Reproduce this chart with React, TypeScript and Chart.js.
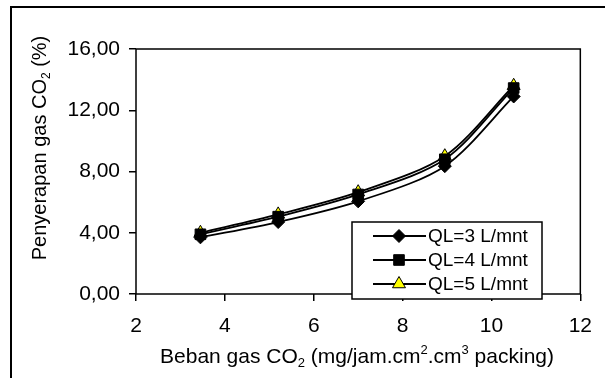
import React, { useEffect, useRef } from "react";
import { Chart, registerables } from "chart.js";
import { drawPoint } from "chart.js/helpers";

Chart.register(...registerables);

const xValues = [3.45, 5.2, 7.0, 8.95, 10.5];
const ql3 = [3.7, 4.7, 6.05, 8.35, 12.9];
const ql4 = [3.9, 5.05, 6.5, 8.8, 13.45];
const ql5 = [4.0, 5.2, 6.65, 9.0, 13.6];
const seriesLabels = ["QL=3 L/mnt", "QL=4 L/mnt", "QL=5 L/mnt"];
const xTickLabels = ["2", "4", "6", "8", "10", "12"];
const yTickLabels = ["0,00", "4,00", "8,00", "12,00", "16,00"];

const FONT = "'Liberation Sans', Arial, sans-serif";

type Seg = { t: string; k?: "sub" | "sup" };
const xTitle: Seg[] = [
  { t: "Beban gas CO" },
  { t: "2", k: "sub" },
  { t: " (mg/jam.cm" },
  { t: "2", k: "sup" },
  { t: ".cm" },
  { t: "3", k: "sup" },
  { t: " packing)" },
];
const yTitle: Seg[] = [
  { t: "Penyerapan gas CO" },
  { t: "2", k: "sub" },
  { t: " (%)" },
];

function drawRich(ctx: CanvasRenderingContext2D, segs: Seg[], size: number) {
  const small = Math.round(size * 0.6);
  let total = 0;
  const widths = segs.map((s) => {
    ctx.font = `${s.k ? small : size}px ${FONT}`;
    const w = ctx.measureText(s.t).width;
    total += w;
    return w;
  });
  let x = -total / 2;
  ctx.textAlign = "left";
  ctx.textBaseline = "alphabetic";
  segs.forEach((s, i) => {
    ctx.font = `${s.k ? small : size}px ${FONT}`;
    const dy = s.k === "sub" ? size * 0.2 : s.k === "sup" ? -size * 0.42 : 0;
    ctx.fillText(s.t, x, dy);
    x += widths[i];
  });
}

const decorPlugin = {
  id: "decor",
  beforeDraw(chart: any) {
    const ctx = chart.ctx as CanvasRenderingContext2D;
    ctx.save();
    ctx.fillStyle = "#fff";
    ctx.fillRect(0, 0, chart.width, chart.height);
    ctx.strokeStyle = "#000";
    ctx.lineWidth = 2;
    ctx.strokeRect(11, 7, 800, 600);
    ctx.restore();
  },
  beforeDatasetsDraw(chart: any) {
    const ctx = chart.ctx as CanvasRenderingContext2D;
    const a = chart.chartArea;
    ctx.save();
    ctx.strokeStyle = "#000";
    ctx.lineWidth = 1.5;
    ctx.strokeRect(a.left, a.top, a.right - a.left, a.bottom - a.top);
    ctx.restore();
  },
  afterDraw(chart: any) {
    const ctx = chart.ctx as CanvasRenderingContext2D;
    ctx.save();
    ctx.fillStyle = "#000";
    ctx.save();
    ctx.translate(357, 363);
    drawRich(ctx, xTitle, 21);
    ctx.restore();
    ctx.save();
    ctx.translate(46, 148);
    ctx.rotate(-Math.PI / 2);
    drawRich(ctx, yTitle, 20);
    ctx.restore();

    const bx = 352, by = 222, bw = 190, bh = 77;
    ctx.fillStyle = "#fff";
    ctx.fillRect(bx, by, bw, bh);
    ctx.strokeStyle = "#000";
    ctx.lineWidth = 1.5;
    ctx.strokeRect(bx, by, bw, bh);
    chart.data.datasets.forEach((ds: any, i: number) => {
      const y = 236 + 24 * i;
      ctx.strokeStyle = "#000";
      ctx.lineWidth = 2;
      ctx.beginPath();
      ctx.moveTo(373, y);
      ctx.lineTo(426, y);
      ctx.stroke();
      ctx.fillStyle = ds.pointBackgroundColor;
      ctx.strokeStyle = "#000";
      ctx.lineWidth = 1;
      drawPoint(ctx, { pointStyle: ds.pointStyle, radius: ds.pointRadius, rotation: 0, borderWidth: 1 }, 399, y);
      ctx.fillStyle = "#000";
      ctx.font = `19px ${FONT}`;
      ctx.textAlign = "left";
      ctx.textBaseline = "middle";
      ctx.fillText(ds.label, 428, y + 1);
    });
    ctx.restore();
  },
};

export default function App() {
  const ref = useRef<HTMLCanvasElement | null>(null);
  useEffect(() => {
    document.body.style.margin = "0";
    const mk = (vals: number[]) => xValues.map((x, i) => ({ x, y: vals[i] }));
    const common = {
      borderColor: "#000",
      borderWidth: 1.8,
      tension: 0.3,
      pointBorderColor: "#000",
      pointBorderWidth: 1,
      showLine: true,
      fill: false,
    };
    const chart = new Chart(ref.current!, {
      type: "scatter",
      data: {
        datasets: [
          { ...common, label: seriesLabels[0], data: mk(ql3), pointStyle: "rectRot", pointRadius: 6.5, pointBackgroundColor: "#000" },
          { ...common, label: seriesLabels[1], data: mk(ql4), pointStyle: "rect", pointRadius: 7.5, pointBackgroundColor: "#000" },
          { ...common, label: seriesLabels[2], data: mk(ql5), pointStyle: "triangle", pointRadius: 7.5, pointBackgroundColor: "#ffff00" },
        ] as any,
      },
      options: {
        animation: false,
        responsive: false,
        maintainAspectRatio: false,
        layout: { padding: { left: 0, top: 49, right: 23, bottom: 0 } },
        plugins: { legend: { display: false }, tooltip: { enabled: false }, title: { display: false } },
        scales: {
          x: {
            type: "linear",
            min: 2,
            max: 12,
            ticks: {
              stepSize: 2,
              color: "#000",
              font: { family: FONT, size: 21 },
              padding: 13,
              maxRotation: 0,
              callback: (_v: any, i: number) => xTickLabels[i],
            },
            grid: { display: true, drawOnChartArea: false, drawTicks: true, tickLength: 7, color: "#000", lineWidth: 1.5 },
            border: { display: false },
            afterFit: (s: any) => { s.height = 84; },
          },
          y: {
            type: "linear",
            min: 0,
            max: 16,
            ticks: {
              stepSize: 4,
              color: "#000",
              font: { family: FONT, size: 21 },
              padding: 9,
              callback: (_v: any, i: number) => yTickLabels[i],
            },
            grid: { display: true, drawOnChartArea: false, drawTicks: true, tickLength: 7, color: "#000", lineWidth: 1.5 },
            border: { display: false },
            afterFit: (s: any) => { s.width = 136; },
          },
        },
      } as any,
      plugins: [decorPlugin],
    });
    return () => chart.destroy();
  }, []);
  return <canvas ref={ref} width={605} height={378} style={{ display: "block", width: 605, height: 378 }} />;
}
